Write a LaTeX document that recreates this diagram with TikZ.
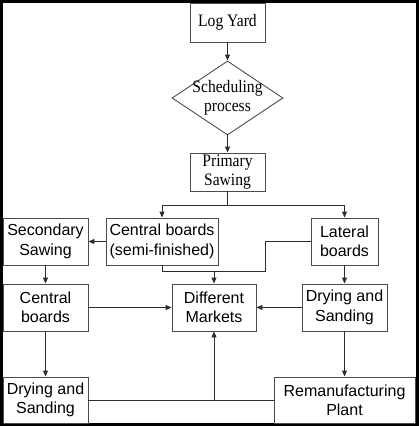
\documentclass[tikz,border=0pt]{standalone}
\usepackage{fontspec}
\setmainfont{Liberation Serif}
\setsansfont{Liberation Sans}
\newfontfamily\narrowserif[FakeStretch=0.89]{Liberation Serif}
\usepackage{tikz}
\usetikzlibrary{positioning}
\usetikzlibrary{arrows.meta}
\usetikzlibrary{shapes,calc}
\definecolor{boxgray}{RGB}{75,75,75}
\definecolor{linegray}{RGB}{45,45,45}

\begin{document}
\begin{tikzpicture}[x=1pt,y=-1pt]
\useasboundingbox (0,0) rectangle (420,426);
\draw[line width=2.5pt] (1.5,1.5) rectangle (417.5,424.5);

% upper part, serif
\begin{scope}[every node/.style={draw=boxgray,line width=0.9pt,inner sep=0pt,align=center,
              font=\narrowserif\fontsize{17.5}{18.8}\selectfont}]
    \node[minimum width=75,minimum height=39] (log) at (227.5,22.5) {Log Yard};
    \node[diamond,minimum width=111,minimum height=74,
          label={[draw=none]center:Scheduling\\process}] (sched) at (227.5,98) {};
    \node[minimum width=75,minimum height=38] (prim) at (227.5,172) {Primary\\Sawing};
\end{scope}

% lower part, sans
\begin{scope}[every node/.style={draw=boxgray,line width=0.9pt,inner sep=0pt,align=center,
              font=\sffamily\fontsize{16}{19.3}\selectfont,minimum height=47}]
    \node[minimum width=85] (secsaw) at (45.5,241.5) {Secondary\\Sawing};
    \node[minimum width=112] (cbsemi) at (162,241.5) {Central boards\\(semi-finished)};
    \node[minimum width=67] (lat) at (344.5,241.5) {Lateral\\boards};
    \node[minimum width=85] (cb) at (45.5,307.5) {Central\\boards};
    \node[minimum width=84] (mkt) at (214,307.5) {Different\\Markets};
    \node[minimum width=85] (dryr) at (344.5,307.5) {Drying and\\Sanding};
    \node[minimum width=85,minimum height=46] (dryl) at (45.5,400) {Drying and\\Sanding};
    \node[minimum width=141,minimum height=46] (reman) at (344.5,400) {Remanufacturing\\Plant};
\end{scope}

\coordinate (fork) at (227.5,205);
\coordinate (merge) at (214,271);
\coordinate (bend) at (265,271);

\begin{scope}[>={Triangle[length=6pt,width=5pt]},
              every edge/.style={draw=linegray,line width=0.9pt}]
    \path [->] (log) edge (sched);
    \path [->] (sched) edge (prim);
    \draw[linegray,line width=0.9pt] (prim) -- (fork);
    \draw[->,linegray,line width=0.9pt] (fork) -| (cbsemi);
    \draw[->,linegray,line width=0.9pt] (fork) -| (lat);
    \path [->] (cbsemi) edge (secsaw);
    \draw[linegray,line width=0.9pt] (cbsemi.south) |- (merge);
    \draw[linegray,line width=0.9pt] (lat.west) -| (bend) -- (merge);
    \path [->] (merge) edge (mkt);
    \path [->] (secsaw) edge (cb);
    \path [->] (cb) edge (mkt);
    \path [->] (dryr) edge (mkt);
    \path [->] (lat) edge (dryr);
    \path [->] (cb) edge (dryl);
    \path [->] (dryr) edge (reman);
    \draw[linegray,line width=0.9pt] (dryl) -- (reman);
    \path [->] (mkt |- dryl) edge (mkt);
\end{scope}
\end{tikzpicture}
\end{document}
